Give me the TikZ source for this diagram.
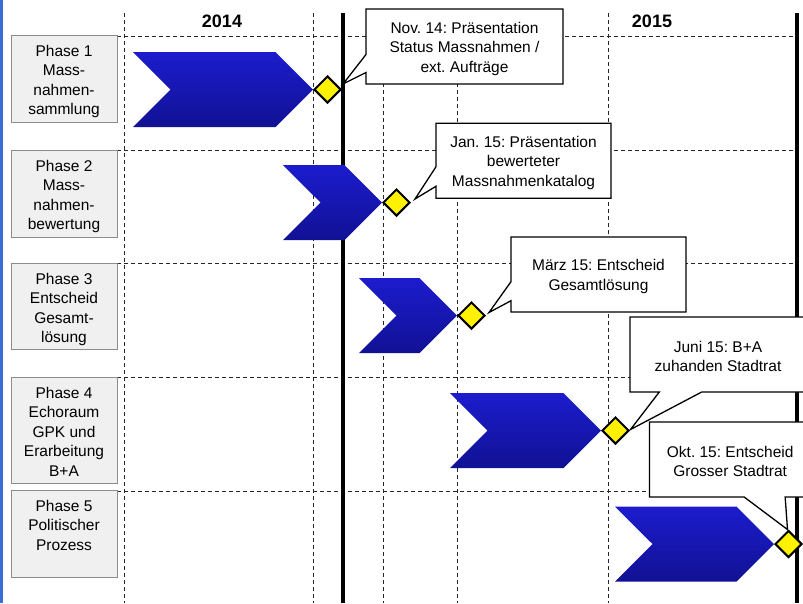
\documentclass[tikz,border=0pt]{standalone}
\usepackage{fontspec}
\setmainfont{Liberation Sans}
\usepackage{tikz}
\usetikzlibrary{calc}
\usetikzlibrary{positioning}
\usetikzlibrary{shapes.geometric}
\usetikzlibrary{shapes.symbols}
\frenchspacing
\definecolor{stripblue}{RGB}{58,110,214}
\definecolor{chevrontop}{RGB}{28,28,206}
\definecolor{chevronbottom}{RGB}{17,17,148}
\definecolor{phasegray}{RGB}{240,240,240}
\tikzset{
	phasestyle/.style={rectangle,draw=black!45,fill=phasegray,line width=1,minimum width=106,inner sep=0,outer sep=0},
	phasetextstyle/.style={align=center,inner sep=0,font=\fontsize{15.5}{19.5}\selectfont},
	chevronstyle/.style={signal,signal from=west,signal to=east,minimum height=75,inner sep=0,outer sep=0,top color=chevrontop,bottom color=chevronbottom},
	milestonestyle/.style={diamond,draw=black,line width=2,fill=yellow,minimum size=27,inner sep=0},
	boxstyle/.style={rectangle,minimum height=75,inner sep=0,outer sep=0},
	calloutstyle/.style={draw=black,line width=1.3,fill=white},
	callouttextstyle/.style={align=center,inner sep=0,yshift=-2pt,font=\fontsize{15.5}{19.5}\selectfont},
	gridstyle/.style={draw=black!85,line width=0.9,dash pattern=on 4pt off 3pt},
	yearstyle/.style={font=\fontsize{18}{21}\selectfont\bfseries},
	nowstyle/.style={line width=4.5}
}

\begin{document}
\begin{tikzpicture}[x=1pt,y=-1pt]
	\useasboundingbox (0,0) rectangle (803,603);
	\clip (0,0) rectangle (803,603);
	\fill[stripblue] (0,0) rectangle (3,603);
	% grid
	\foreach \x in {124,313,383,457,608}
		\draw[gridstyle] (\x,13) -- (\x,603);
	\foreach \y in {36,150,263,377,491}
		\draw[gridstyle] (117,\y) -- (797,\y);
	\draw[nowstyle] (343,13) -- (343,603);
	\draw[nowstyle] (797,13) -- (797,603);
	\node[yearstyle] (y14) at (222,21.5) {2014};
	\node[yearstyle] (y15) at (652,21.5) {2015};
	% phases
	\node[phasestyle,minimum height=87] (p1) at (64,78.5) {};
	\node[phasestyle,minimum height=87] (p2) at (64,193.5) {};
	\node[phasestyle,minimum height=86] (p3) at (64,306) {};
	\node[phasestyle,minimum height=106] (p4) at (64,430) {};
	\node[phasestyle,minimum height=87] (p5) at (64,533.5) {};
	\node[phasetextstyle,below=10pt of p1.north] (l1) {Phase 1\\Mass-\\nahmen-\\sammlung};
	\node[phasetextstyle,below=10pt of p2.north] (l2) {Phase 2\\Mass-\\nahmen-\\bewertung};
	\node[phasetextstyle,below=10pt of p3.north] (l3) {Phase 3\\Entscheid\\Gesamt-\\lösung};
	\node[phasetextstyle,below=10pt of p4.north] (l4) {Phase 4\\Echoraum\\GPK und\\Erarbeitung\\B+A};
	\node[phasetextstyle,below=10pt of p5.north] (l5) {Phase 5\\Politischer\\Prozess};
	% chevrons and milestones
	\node[chevronstyle,minimum width=180] (c1) at (223,89.5) {};
	\node[chevronstyle,minimum width=99] (c2) at (332.5,202.5) {};
	\node[chevronstyle,minimum width=98] (c3) at (408,315.5) {};
	\node[chevronstyle,minimum width=151] (c4) at (525.5,430.5) {};
	\node[chevronstyle,minimum width=159] (c5) at (694.5,544) {};
	\node[milestonestyle,right=0pt of c1] (m1) {};
	\node[milestonestyle,right=0pt of c2] (m2) {};
	\node[milestonestyle,right=0pt of c3] (m3) {};
	\node[milestonestyle,right=0pt of c4] (m4) {};
	\node[milestonestyle,right=0pt of c5] (m5) {};
	% callouts
	\node[boxstyle,minimum width=197] (b1) at (464.5,46.5) {};
	\draw[calloutstyle] (b1.north west) -- (b1.north east) -- (b1.south east) -- (b1.south west)
		-- ($(b1.south west)+(0,-11.5)$) -- ($(m1.east)+(1,-5.5)$) -- ($(b1.south west)+(0,-29.5)$) -- cycle;
	\node[callouttextstyle] (t1) at (b1) {Nov. 14: Präsentation\\Status Massnahmen /\\ext. Aufträge};

	\node[boxstyle,minimum width=175] (b2) at (523.5,160.75) {};
	\draw[calloutstyle] (b2.north west) -- (b2.north east) -- (b2.south east) -- (b2.south west)
		-- ($(b2.south west)+(0,-12)$) -- ($(m2.east)+(4,-3.5)$) -- ($(b2.south west)+(0,-31.5)$) -- cycle;
	\node[callouttextstyle] (t2) at (b2) {Jan. 15: Präsentation\\bewerteter\\Massnahmenkatalog};

	\node[boxstyle,minimum width=175] (b3) at (598.5,274.5) {};
	\draw[calloutstyle] (b3.north west) -- (b3.north east) -- (b3.south east) -- (b3.south west)
		-- ($(b3.south west)+(0,-11.3)$) -- ($(m3.east)+(3,-3)$) -- ($(b3.south west)+(0,-30.3)$) -- cycle;
	\node[callouttextstyle] (t3) at (b3) {März 15: Entscheid\\Gesamtlösung};

	\node[boxstyle,minimum width=176] (b4) at (718,354.5) {};
	\draw[calloutstyle] (b4.north west) -- (b4.north east) -- (b4.south east)
		-- ($(b4.south west)+(71.7,0)$) -- ($(m4.east)+(0.5,-1)$) -- ($(b4.south west)+(29.3,0)$) -- (b4.south west) -- cycle;
	\node[callouttextstyle] (t4) at (b4) {Juni 15: B+A\\zuhanden Stadtrat};

	\node[boxstyle,minimum width=161.5] (b5) at (730.2,459.5) {};
	\draw[calloutstyle] (b5.north west) -- (b5.north east) -- (b5.south east)
		-- ($(b5.south west)+(135.7,0)$) -- ($(m5.north)+(-1,0)$) -- ($(b5.south west)+(94.7,0)$) -- (b5.south west) -- cycle;
	\node[callouttextstyle] (t5) at (b5) {Okt. 15: Entscheid\\Grosser Stadtrat};
\end{tikzpicture}
\end{document}
